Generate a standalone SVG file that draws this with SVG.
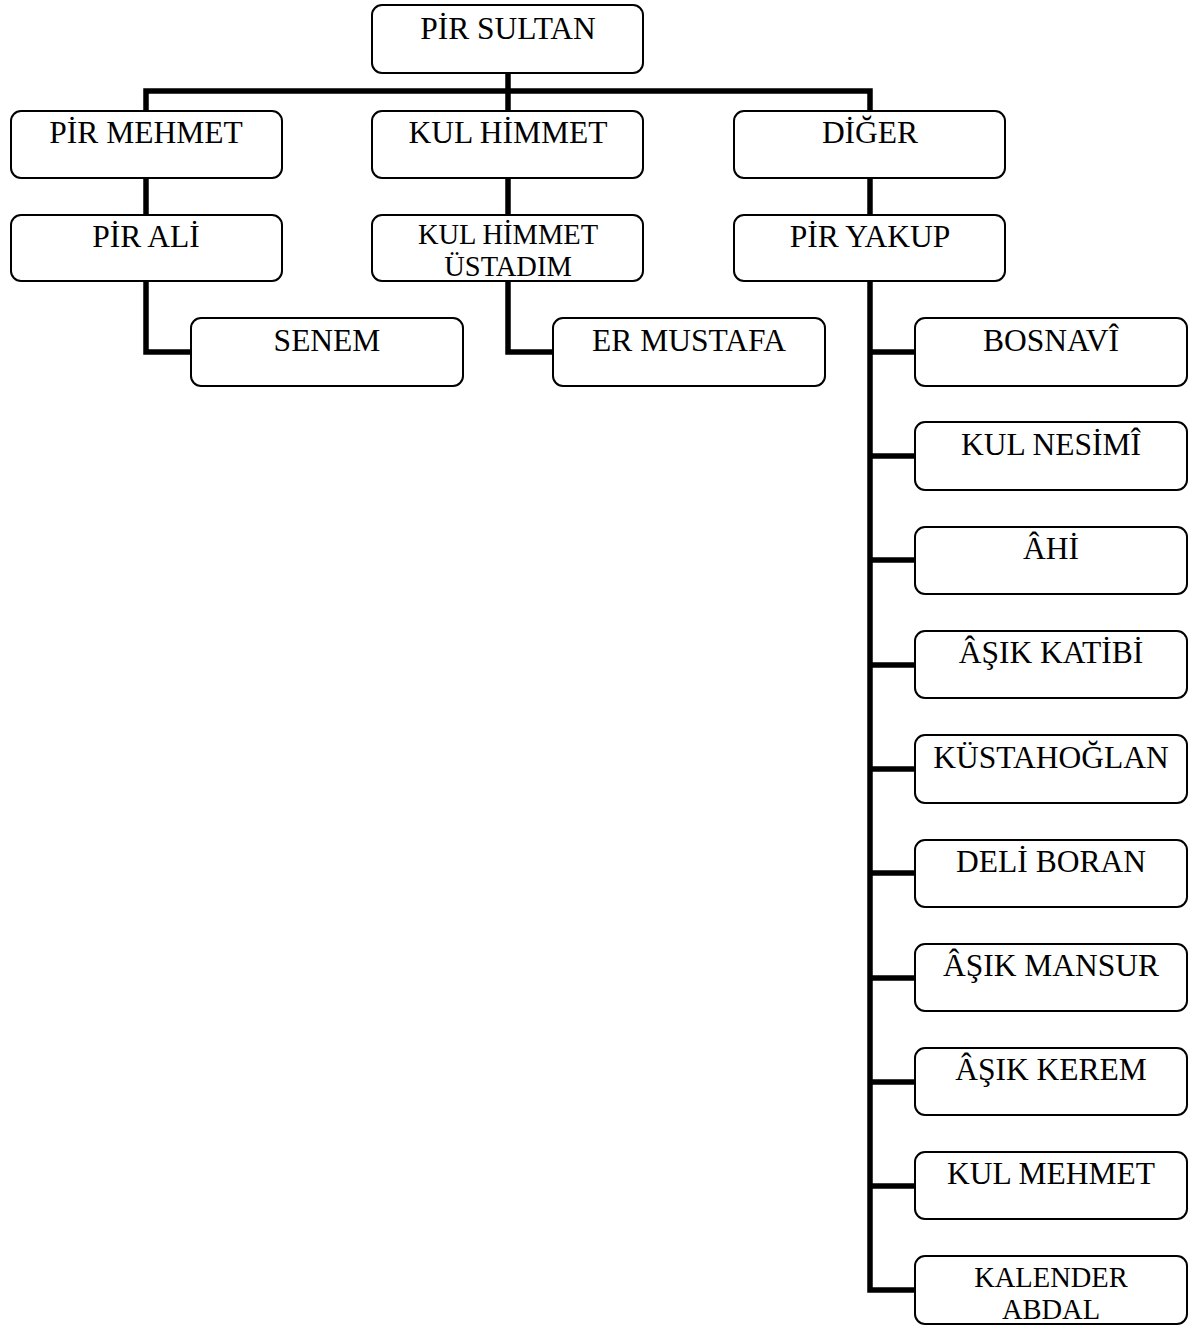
<svg xmlns="http://www.w3.org/2000/svg" width="1202" height="1326" viewBox="0 0 1202 1326">
  <style>
    .box { fill: #ffffff; stroke: #000000; stroke-width: 2; }
    .lbl { font-family: "Liberation Serif", "Times New Roman", serif; font-size: 31.5px; fill: #000000; text-anchor: middle; }
    .sm { font-size: 28.5px; }
    .link { fill: none; stroke: #000000; stroke-width: 5.5; stroke-linejoin: miter; stroke-linecap: butt; }
  </style>
  <rect width="1202" height="1326" fill="#ffffff"/>

  <!-- connectors -->
  <g id="connectors">
    <path class="link" d="M508 73 V111"/>
    <path class="link" d="M146 111 V91 H870 V111"/>
    <path class="link" d="M146 178 V215"/>
    <path class="link" d="M508 178 V215"/>
    <path class="link" d="M870 178 V215"/>
    <path class="link" d="M146 281 V352 H191"/>
    <path class="link" d="M508 281 V352 H553"/>
    <path class="link" d="M870 281 V1290 H915"/>
    <path class="link" d="M870 352 H915 M870 456 H915 M870 560 H915 M870 665 H915 M870 769 H915 M870 873 H915 M870 978 H915 M870 1082 H915 M870 1186 H915"/>
  </g>

  <!-- level 0 -->
  <g id="pir-sultan"><rect class="box" x="372" y="5" width="271" height="68" rx="10"/><text class="lbl" x="508" y="39">PİR SULTAN</text></g>

  <!-- level 1 -->
  <g id="pir-mehmet"><rect class="box" x="11" y="111" width="271" height="67" rx="10"/><text class="lbl" x="146" y="143">PİR MEHMET</text></g>
  <g id="kul-himmet"><rect class="box" x="372" y="111" width="271" height="67" rx="10"/><text class="lbl" x="508" y="143">KUL HİMMET</text></g>
  <g id="diger"><rect class="box" x="734" y="111" width="271" height="67" rx="10"/><text class="lbl" x="870" y="143">DİĞER</text></g>

  <!-- level 2 -->
  <g id="pir-ali"><rect class="box" x="11" y="215" width="271" height="66" rx="10"/><text class="lbl" x="146" y="247">PİR ALİ</text></g>
  <g id="kul-himmet-ustadim"><rect class="box" x="372" y="215" width="271" height="66" rx="10"/><text class="lbl sm" x="508" y="244">KUL HİMMET</text><text class="lbl sm" x="508" y="276">ÜSTADIM</text></g>
  <g id="pir-yakup"><rect class="box" x="734" y="215" width="271" height="66" rx="10"/><text class="lbl" x="870" y="247">PİR YAKUP</text></g>

  <!-- level 3 -->
  <g id="senem"><rect class="box" x="191" y="318" width="272" height="68" rx="10"/><text class="lbl" x="327" y="351">SENEM</text></g>
  <g id="er-mustafa"><rect class="box" x="553" y="318" width="272" height="68" rx="10"/><text class="lbl" x="689" y="351">ER MUSTAFA</text></g>

  <!-- descendants of PİR YAKUP -->
  <g id="bosnavi"><rect class="box" x="915" y="318" width="272" height="68" rx="10"/><text class="lbl" x="1051" y="351">BOSNAVÎ</text></g>
  <g id="kul-nesimi"><rect class="box" x="915" y="422" width="272" height="68" rx="10"/><text class="lbl" x="1051" y="455">KUL NESİMÎ</text></g>
  <g id="ahi"><rect class="box" x="915" y="527" width="272" height="67" rx="10"/><text class="lbl" x="1051" y="559">ÂHİ</text></g>
  <g id="asik-katibi"><rect class="box" x="915" y="631" width="272" height="67" rx="10"/><text class="lbl" x="1051" y="663">ÂŞIK KATİBİ</text></g>
  <g id="kustahoglan"><rect class="box" x="915" y="735" width="272" height="68" rx="10"/><text class="lbl" x="1051" y="768">KÜSTAHOĞLAN</text></g>
  <g id="deli-boran"><rect class="box" x="915" y="840" width="272" height="67" rx="10"/><text class="lbl" x="1051" y="872">DELİ BORAN</text></g>
  <g id="asik-mansur"><rect class="box" x="915" y="944" width="272" height="67" rx="10"/><text class="lbl" x="1051" y="976">ÂŞIK MANSUR</text></g>
  <g id="asik-kerem"><rect class="box" x="915" y="1048" width="272" height="67" rx="10"/><text class="lbl" x="1051" y="1080">ÂŞIK KEREM</text></g>
  <g id="kul-mehmet"><rect class="box" x="915" y="1152" width="272" height="67" rx="10"/><text class="lbl" x="1051" y="1184">KUL MEHMET</text></g>
  <g id="kalender-abdal"><rect class="box" x="915" y="1256" width="272" height="68" rx="10"/><text class="lbl sm" x="1051" y="1287">KALENDER</text><text class="lbl sm" x="1051" y="1319">ABDAL</text></g>
</svg>
